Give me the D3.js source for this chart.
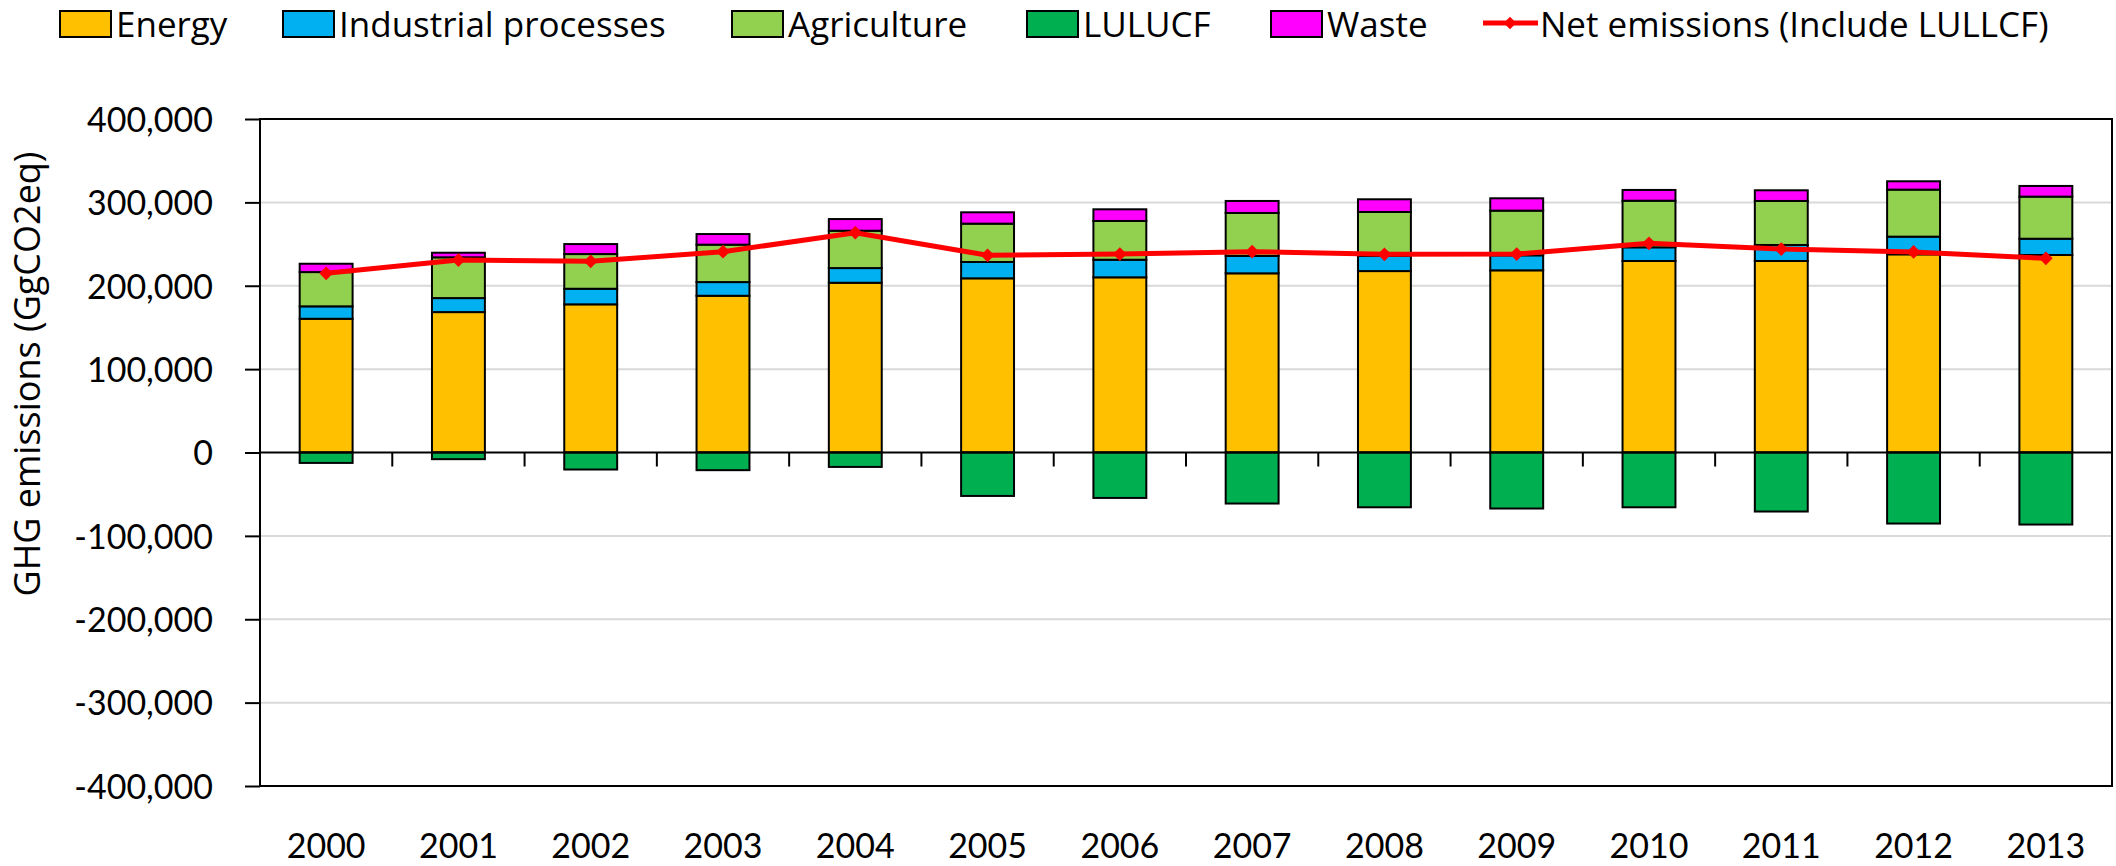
<!DOCTYPE html>
<html lang="en">
<head>
    <meta charset="UTF-8">
    <title>GHG emissions 2000-2013</title>

    <style>
        body { margin: 0; background: #fff; }

        text {
            font-family: 'Lato', sans-serif;
            fill: #000;
        }

        .label {
            font-family: 'Open Sans', sans-serif;
        }

        .grid line {
            stroke: #d9d9d9;
            stroke-width: 2px;
        }

        .bar {
            stroke: #000;
            stroke-width: 2px;
        }

        .net {
            fill: none;
            stroke: #ff0000;
            stroke-width: 5px;
        }
    </style>
</head>
<body>

<script src="https://d3js.org/d3.v7.min.js"></script>

<script>

    const width = 2116;
    const height = 866;
    const margin = {'left': 260, 'right': 4, 'top': 119, 'bottom': 80};

    // data, GgCO2eq
    const years = ['2000', '2001', '2002', '2003', '2004', '2005', '2006', '2007', '2008', '2009', '2010', '2011', '2012', '2013'];
    const energy = [160400, 168400, 177700, 188000, 203600, 208900, 210100, 214900, 217600, 218500, 229700, 229700, 237700, 236900];
    const industrial = [14900, 16800, 18700, 16400, 17600, 19600, 21100, 20800, 18100, 18000, 16400, 19200, 21200, 19500];
    const agriculture = [41100, 48900, 41600, 44900, 44800, 46000, 46500, 51600, 52800, 53600, 55900, 52800, 56400, 50500];
    const lulucf = [-12500, -8000, -20400, -21200, -17300, -52100, -54500, -61200, -65700, -67200, -65700, -70800, -85200, -86400];
    const waste = [10000, 5500, 12000, 12700, 14000, 13600, 14000, 14400, 15200, 14800, 12900, 12800, 10000, 12800];
    const net = [214900, 230800, 229300, 240800, 263600, 236500, 238000, 240800, 237700, 238000, 250900, 244000, 240500, 232900];
    const yTicks = [-400000, -300000, -200000, -100000, 0, 100000, 200000, 300000, 400000];

    const series = [
        {'key': 'energy', 'name': 'Energy', 'values': energy, 'colour': '#ffc000'},
        {'key': 'industrial', 'name': 'Industrial processes', 'values': industrial, 'colour': '#00b0f0'},
        {'key': 'agriculture', 'name': 'Agriculture', 'values': agriculture, 'colour': '#92d050'},
        {'key': 'lulucf', 'name': 'LULUCF', 'values': lulucf, 'colour': '#00b050'},
        {'key': 'waste', 'name': 'Waste', 'values': waste, 'colour': '#ff00ff'}
    ];

    let rows = years.map(function(y, i) {
        let r = {'year': y, 'net': net[i]};
        series.forEach(function(s) { r[s.key] = s.values[i]; });
        return r;
    });

    let svg = d3.select('body').append('svg')
        .attr('width', width)
        .attr('height', height);

    let x = d3.scaleBand()
        .domain(years)
        .range([margin.left, width - margin.right])
        .padding(0);

    let y = d3.scaleLinear()
        .domain([-400000, 400000])
        .range([height - margin.bottom, margin.top]);

    const barW = x.bandwidth() * 0.4;
    const diamond = d3.symbolDiamond2 || d3.symbolDiamond;

    // plain hyphen for negatives, like the original
    const fmt = d3.formatLocale({'decimal': '.', 'thousands': ',', 'grouping': [3], 'currency': ['', ''], 'minus': '-'}).format(',');

    // gridlines
    svg.append('g')
        .attr('class', 'grid')
        .selectAll('line')
        .data(yTicks.filter(function(d) { return d !== 0 && Math.abs(d) !== 400000; }))
        .enter().append('line')
        .attr('x1', margin.left)
        .attr('x2', width - margin.right)
        .attr('y1', function(d) { return y(d); })
        .attr('y2', function(d) { return y(d); });

    // stacked bars
    let stack = d3.stack()
        .keys(series.map(function(s) { return s.key; }))
        .offset(d3.stackOffsetDiverging);

    let layers = stack(rows);

    svg.append('g').selectAll('g')
        .data(layers)
        .enter().append('g')
        .style('fill', function(d, i) { return series[i].colour; })
        .selectAll('rect')
        .data(function(d) { return d; })
        .enter().append('rect')
        .attr('class', 'bar')
        .attr('x', function(d) { return x(d.data.year) + (x.bandwidth() - barW) / 2; })
        .attr('width', barW)
        .attr('y', function(d) { return y(Math.max(d[0], d[1])); })
        .attr('height', function(d) { return Math.abs(y(d[0]) - y(d[1])); });

    // y axis
    let yAxis = svg.append('g')
        .attr('transform', 'translate(' + margin.left + ',0)')
        .call(d3.axisLeft(y)
            .tickValues(yTicks)
            .tickSize(15)
            .tickPadding(32)
            .tickFormat(fmt));

    yAxis.select('.domain').remove();
    yAxis.selectAll('.tick line').style('stroke', '#000').style('stroke-width', '2px');
    yAxis.selectAll('text')
        .style('font-size', '34px')
        .style('font-family', 'Lato, sans-serif')
        .attr('dy', '0.36em');

    // zero line with category ticks
    let xAxis = svg.append('g')
        .attr('transform', 'translate(0,' + y(0) + ')');

    xAxis.append('line')
        .attr('x1', margin.left)
        .attr('x2', width - margin.right)
        .style('stroke', '#000')
        .style('stroke-width', '2px');

    xAxis.selectAll('.ctick')
        .data(years.slice(1))
        .enter().append('line')
        .attr('class', 'ctick')
        .attr('x1', function(d) { return x(d); })
        .attr('x2', function(d) { return x(d); })
        .attr('y1', 0)
        .attr('y2', 14)
        .style('stroke', '#000')
        .style('stroke-width', '2px');

    // year labels at the bottom
    svg.append('g').selectAll('text')
        .data(years)
        .enter().append('text')
        .attr('x', function(d) { return x(d) + x.bandwidth() / 2; })
        .attr('y', 858)
        .attr('text-anchor', 'middle')
        .style('font-size', '34px')
        .text(function(d) { return d; });

    // plot frame
    svg.append('rect')
        .attr('x', margin.left)
        .attr('y', margin.top)
        .attr('width', width - margin.right - margin.left)
        .attr('height', y(-400000) - margin.top)
        .style('fill', 'none')
        .style('stroke', '#000')
        .style('stroke-width', '2px');

    // net emissions line
    svg.append('path')
        .datum(rows)
        .attr('class', 'net')
        .attr('d', d3.line()
            .x(function(d) { return x(d.year) + x.bandwidth() / 2; })
            .y(function(d) { return y(d.net); }));

    svg.append('g').selectAll('path')
        .data(rows)
        .enter().append('path')
        .attr('transform', function(d) { return 'translate(' + (x(d.year) + x.bandwidth() / 2) + ',' + y(d.net) + ')'; })
        .attr('d', d3.symbol().type(diamond).size(120))
        .style('fill', '#ff0000');

    // y axis title
    svg.append('text')
        .attr('class', 'label')
        .attr('transform', 'translate(40,374) rotate(-90)')
        .attr('text-anchor', 'middle')
        .style('font-size', '36px')
        .text('GHG emissions (GgCO2eq)');

    // legend
    const legendX = [60, 283, 732, 1027, 1271];
    let legend = svg.append('g');

    series.forEach(function(s, i) {
        legend.append('rect')
            .attr('x', legendX[i])
            .attr('y', 11)
            .attr('width', 51)
            .attr('height', 26)
            .style('fill', s.colour)
            .style('stroke', '#000')
            .style('stroke-width', '2px');

        legend.append('text')
            .attr('class', 'label')
            .attr('x', legendX[i] + 56)
            .attr('y', 37)
            .style('font-size', '35px')
            .text(s.name);
    });

    legend.append('line')
        .attr('x1', 1483)
        .attr('x2', 1538)
        .attr('y1', 23)
        .attr('y2', 23)
        .style('stroke', '#ff0000')
        .style('stroke-width', '5px');

    legend.append('path')
        .attr('transform', 'translate(1510,23)')
        .attr('d', d3.symbol().type(diamond).size(100))
        .style('fill', '#ff0000');

    legend.append('text')
        .attr('class', 'label')
        .attr('x', 1540)
        .attr('y', 37)
        .style('font-size', '35px')
        .text('Net emissions (Include LULLCF)');

</script>

</body>
</html>
